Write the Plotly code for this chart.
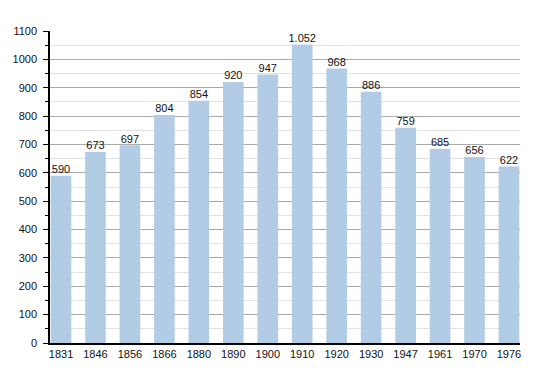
import plotly.graph_objects as go

years = ["1831", "1846", "1856", "1866", "1880", "1890", "1900", "1910", "1920", "1930", "1947", "1961", "1970", "1976"]
population = [590, 673, 697, 804, 854, 920, 947, 1052, 968, 886, 759, 685, 656, 622]
labels = ["590", "673", "697", "804", "854", "920", "947", "1.052", "968", "886", "759", "685", "656", "622"]
y_ticks = list(range(0, 1101, 100))

x = list(range(len(years)))
FONT = "Liberation Sans, Arial, sans-serif"

fig = go.Figure()
fig.add_trace(go.Bar(
    x=x, y=population, width=0.6,
    marker=dict(color="#b3cce6", line=dict(width=0)),
    hoverinfo="skip",
))
fig.add_trace(go.Scatter(
    x=x, y=population, mode="text", text=labels, textposition="top center",
    textfont=dict(family=FONT, size=11, color="#111"),
    cliponaxis=False, hoverinfo="skip",
))

fig.update_layout(
    width=550, height=373,
    margin=dict(l=50, r=30, t=31, b=30),
    plot_bgcolor="white", paper_bgcolor="white",
    showlegend=False,
    font=dict(family=FONT, size=11, color="#111"),
)
fig.update_xaxes(
    range=[-0.32, 13.32], tickmode="array", tickvals=x, ticktext=years,
    showgrid=False, zeroline=False, showline=True, linecolor="black", linewidth=1.5,
    ticks="", tickfont=dict(size=11),
)
fig.update_yaxes(
    range=[0, 1100], tickmode="array", tickvals=y_ticks,
    showgrid=True, gridcolor="#aaaaaa", gridwidth=1,
    zeroline=False, showline=True, linecolor="black", linewidth=1.5,
    ticks="outside", ticklen=5, tickcolor="black", tickfont=dict(size=11),
    ticklabelstandoff=4,
    minor=dict(dtick=50, showgrid=True, gridcolor="#e2e2e2", ticks="outside", ticklen=3, tickcolor="black"),
)

fig.write_html("out.html", config={"displayModeBar": False},
               post_script="document.body.style.margin='0';")
